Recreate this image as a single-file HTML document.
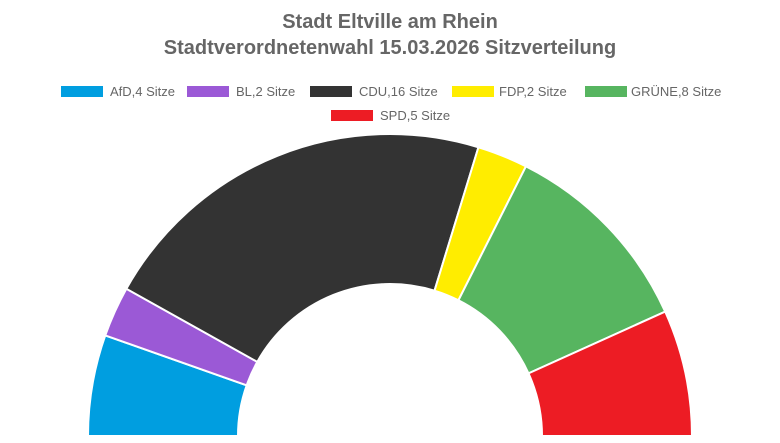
<!DOCTYPE html>
<html><head><meta charset="utf-8"><style>
body{margin:0;background:#fff;width:780px;height:438px;overflow:hidden;font-family:"Liberation Sans",sans-serif}
</style></head><body>
<svg width="780" height="438" xmlns="http://www.w3.org/2000/svg" id="s">
<text x="390" y="28" text-anchor="middle" font-size="20" font-weight="bold" fill="#666" font-family="Liberation Sans, sans-serif">Stadt Eltville am Rhein</text>
<text x="390" y="54" text-anchor="middle" font-size="20" font-weight="bold" fill="#666" font-family="Liberation Sans, sans-serif">Stadtverordnetenwahl 15.03.2026 Sitzverteilung</text>
<g font-size="13" fill="#666" font-family="Liberation Sans, sans-serif">
<rect x="61" y="86" width="42" height="11" fill="#009ee0"/><text x="110" y="96">AfD,4 Sitze</text>
<rect x="187" y="86" width="42" height="11" fill="#9b59d6"/><text x="236" y="96">BL,2 Sitze</text>
<rect x="310" y="86" width="42" height="11" fill="#333333"/><text x="359" y="96">CDU,16 Sitze</text>
<rect x="452" y="86" width="42" height="11" fill="#ffed00"/><text x="499" y="96">FDP,2 Sitze</text>
<rect x="585" y="86" width="42" height="11" fill="#57b560"/><text x="631" y="96">GRÜNE,8 Sitze</text>
<rect x="331" y="110" width="42" height="11" fill="#ed1c24"/><text x="380" y="120">SPD,5 Sitze</text>
</g>
<g id="arcs" stroke="#fff" stroke-width="2"></g>
</svg>
<script>
var d=[[4,"#009ee0"],[2,"#9b59d6"],[16,"#333333"],[2,"#ffed00"],[8,"#57b560"],[5,"#ed1c24"]];
var cx=390,cy=436,R=302,r=152,tot=37,acc=0,g=document.getElementById("arcs"),h="";
function p(a,rad){return (cx-rad*Math.cos(a)).toFixed(2)+","+(cy-rad*Math.sin(a)).toFixed(2);}
d.forEach(function(e){var a0=acc/tot*Math.PI;acc+=e[0];var a1=acc/tot*Math.PI;
h+='<path fill="'+e[1]+'" d="M'+p(a0,R)+' A'+R+','+R+' 0 0 1 '+p(a1,R)+' L'+p(a1,r)+' A'+r+','+r+' 0 0 0 '+p(a0,r)+' Z"/>';});
g.innerHTML=h;
</script>
</body></html>
